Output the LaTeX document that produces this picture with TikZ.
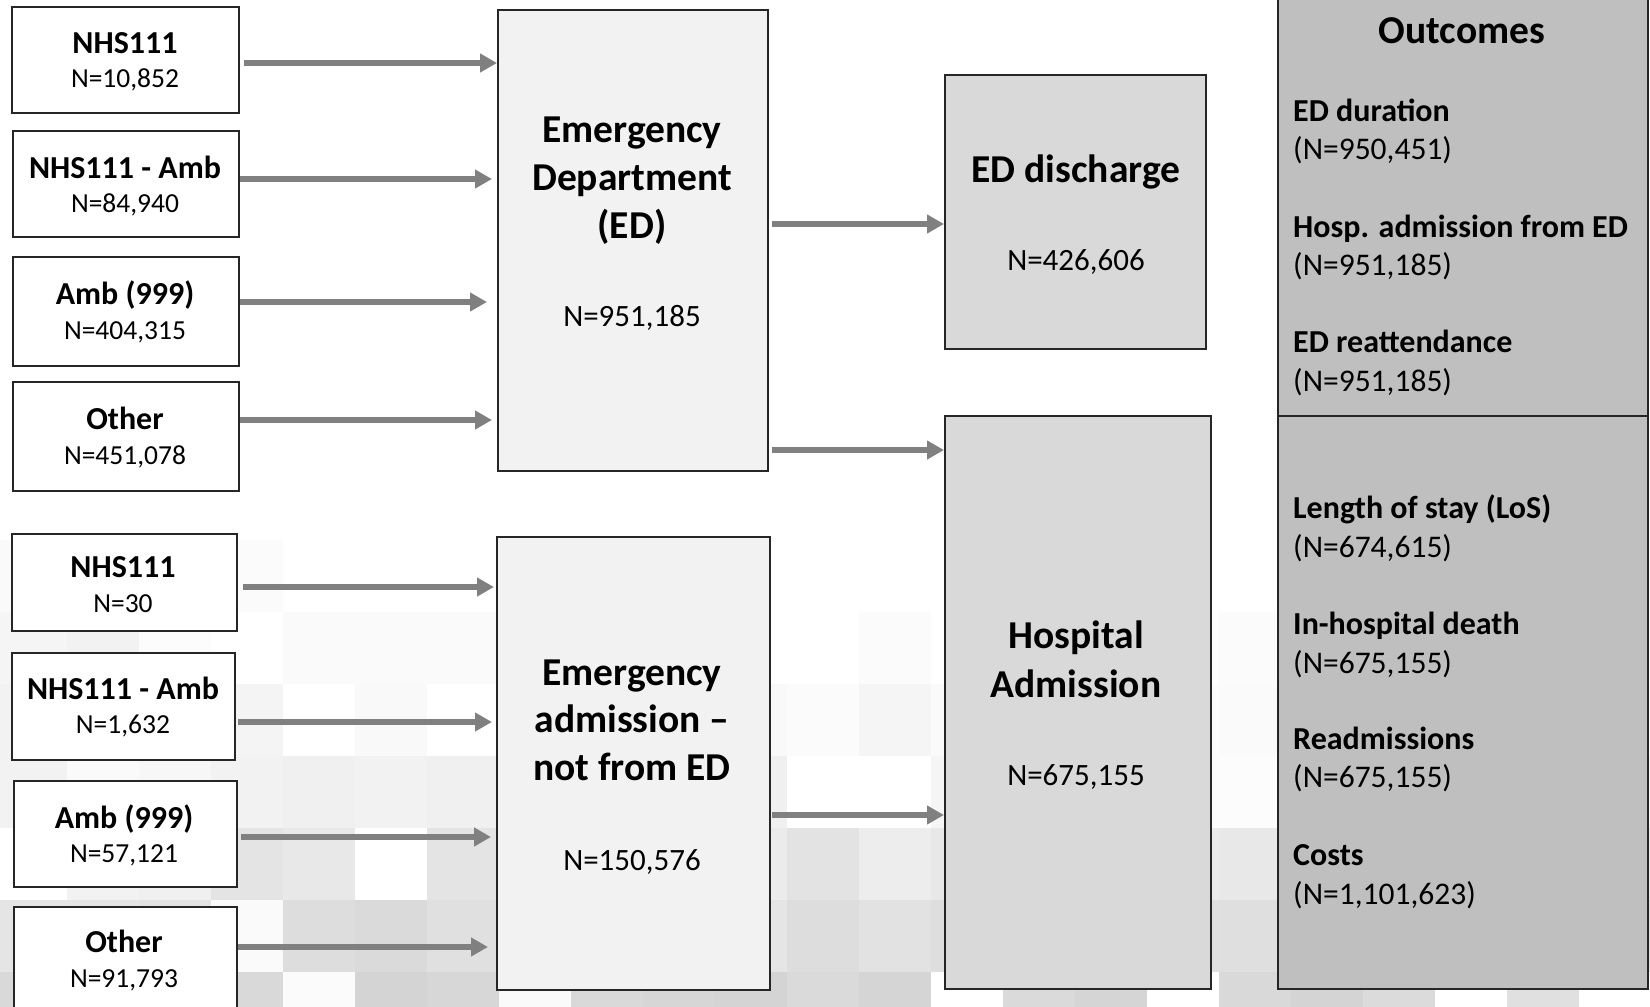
\documentclass[tikz,border=0pt]{standalone}
\usepackage{fontspec}
\setmainfont{Carlito}
\usetikzlibrary{arrows.meta}
\definecolor{lightfill}{HTML}{F2F2F2}
\definecolor{midfill}{HTML}{D9D9D9}
\definecolor{darkfill}{HTML}{BFBFBF}
\definecolor{arrowgray}{HTML}{808080}
\definecolor{edgecol}{HTML}{262626}
\tikzset{
  srcbox/.style={draw=edgecol, line width=2pt, fill=white, rectangle, inner sep=0pt},
  bigbox/.style={draw=edgecol, line width=2pt, rectangle, inner sep=0pt},
  arr/.style={draw=arrowgray, line width=5.5pt, -{Triangle[length=17pt,width=18pt]}},
  srcttl/.style={inner sep=0pt, anchor=base, font=\fontsize{32}{38}\selectfont\bfseries},
  srcn/.style={inner sep=0pt, anchor=base, font=\fontsize{27.5}{33}\selectfont},
  bigttl/.style={inner sep=0pt, anchor=base, font=\fontsize{39.5}{48}\selectfont\bfseries},
  bign/.style={inner sep=0pt, anchor=base, font=\fontsize{31}{37}\selectfont},
  outttl/.style={inner sep=0pt, anchor=base, font=\fontsize{39.5}{48}\selectfont\bfseries},
  outb/.style={inner sep=0pt, anchor=base west, font=\fontsize{32}{38}\selectfont\bfseries},
  outn/.style={inner sep=0pt, anchor=base west, font=\fontsize{31.5}{38}\selectfont},
}
\begin{document}
\begin{tikzpicture}[x=1pt,y=-1pt]
\useasboundingbox (0,0) rectangle (1650,1007);
\clip (0,0) rectangle (1650,1007);
% pixelated background
\foreach \row [count=\r from 0] in {
  {2,1,1,1.5,0,0,0,0,0,0,0,0,0,0,0,0,0,0,0,0,0,0,0},
  {4,5,1,0,2,2,2,2,2,2,0,0,1.5,0,0,0,0,1.5,1,1,0,0,0},
  {5,3,3,4.5,0,2.5,0,3,2,3,2.5,1.5,4,2,2,2,1,2,2,2,1,1,1},
  {5,2,3,5,6,5,6,5,6,5,6,0,0,4,5,4,1,1,4,4,3,3,3},
  {0,5,6,10.5,9,0,10.5,9,8,10,8,11,7,9,9,8,8,9,9,8,9,8,8},
  {10,10,11,2,13.5,14.5,12,12,13,12,10,13.5,11.5,13,12,13,12,12.5,12,13,12,12,12},
  {15,15,16,15,1.5,17,15.5,2,15,16,17,14.5,16.5,0,14.5,16.5,0,15,17,14,0,12,0}}{
  \foreach \v [count=\c from 0] in \row {
    \fill[black!\v] (-5+72*\c,540+72*\r) rectangle ++(72,72);
  }
}
% source boxes, ED branch
\node[srcbox, minimum width=227pt, minimum height=106pt] (b1) at (125.5,60) {};
\node[srcbox, minimum width=226pt, minimum height=106pt] (b2) at (126,184) {};
\node[srcbox, minimum width=226pt, minimum height=109pt] (b3) at (126,311.5) {};
\node[srcbox, minimum width=226pt, minimum height=109pt] (b4) at (126,436.5) {};
% source boxes, admission branch
\node[srcbox, minimum width=225.4pt, minimum height=97.5pt] (c1) at (124.3,582.3) {};
\node[srcbox, minimum width=223.4pt, minimum height=107pt] (c2) at (123.3,706.5) {};
\node[srcbox, minimum width=223.3pt, minimum height=106pt] (c3) at (125.4,834) {};
\node[srcbox, minimum width=223.3pt, minimum height=123pt] (c4) at (125.4,968.5) {};
% main boxes
\node[bigbox, fill=lightfill, minimum width=270pt, minimum height=461pt] (ed) at (633,240.5) {};
\node[bigbox, fill=lightfill, minimum width=273pt, minimum height=453pt] (ea) at (633.5,763.5) {};
\node[bigbox, fill=midfill, minimum width=261pt, minimum height=274pt] (dis) at (1075.5,212) {};
\node[bigbox, fill=midfill, minimum width=266pt, minimum height=573pt] (hosp) at (1078,702.5) {};
\node[bigbox, fill=darkfill, minimum width=370pt, minimum height=1009pt] (out) at (1463,484.5) {};
\draw[draw=edgecol, line width=2pt] (out.west |- 0,416) -- (out.east |- 0,416);
% arrows
\draw[arr, shorten <=4pt] (b1.east |- 0,63) -- (ed.west |- 0,63);
\draw[arr, shorten >=5pt] (b2.east |- 0,179) -- (ed.west |- 0,179);
\draw[arr, shorten >=10pt] (b3.east |- 0,302) -- (ed.west |- 0,302);
\draw[arr, shorten >=5pt] (b4.east |- 0,420) -- (ed.west |- 0,420);
\draw[arr, shorten <=5pt, shorten >=2pt] (c1.east |- 0,587) -- (ea.west |- 0,587);
\draw[arr, shorten <=2pt, shorten >=4pt] (c2.east |- 0,722) -- (ea.west |- 0,722);
\draw[arr, shorten <=3pt, shorten >=5pt] (c3.east |- 0,837) -- (ea.west |- 0,837);
\draw[arr, shorten >=8pt] (c4.east |- 0,947) -- (ea.west |- 0,947);
\draw[arr, shorten <=3pt] (ed.east |- 0,224) -- (dis.west |- 0,224);
\draw[arr, shorten <=3pt] (ed.east |- 0,450) -- (hosp.west |- 0,450);
\draw[arr, shorten <=1pt] (ea.east |- 0,815) -- (hosp.west |- 0,815);
% source texts
\node[srcttl] (b1a) at (125,53.3) {NHS111};
\node[srcn]   (b1b) at (125,87.3) {N=10,852};
\node[srcttl] (b2a) at (125,178.3) {NHS111 - Amb};
\node[srcn]   (b2b) at (125,212.3) {N=84,940};
\node[srcttl] (b3a) at (125,304) {Amb (999)};
\node[srcn]   (b3b) at (125,339.3) {N=404,315};
\node[srcttl] (b4a) at (125,429.3) {Other};
\node[srcn]   (b4b) at (125,464) {N=451,078};
\node[srcttl] (c1a) at (123,577) {NHS111};
\node[srcn]   (c1b) at (123,612) {N=30};
\node[srcttl] (c2a) at (123,699.5) {NHS111 - Amb};
\node[srcn]   (c2b) at (123,733.5) {N=1,632};
\node[srcttl] (c3a) at (124,828) {Amb (999)};
\node[srcn]   (c3b) at (124,862) {N=57,121};
\node[srcttl] (c4a) at (124,952) {Other};
\node[srcn]   (c4b) at (124,987) {N=91,793};
% main texts
\node[bigttl] (eda) at (632,142) {Emergency};
\node[bigttl] (edb) at (632,190) {Department};
\node[bigttl] (edc) at (632,238.5) {(ED)};
\node[bign]   (edn) at (632,326.7) {N=951,185};
\node[bigttl] (disa) at (1076,182) {ED discharge};
\node[bign]   (disn) at (1076,270) {N=426,606};
\node[bigttl] (hospa) at (1076,648.5) {Hospital};
\node[bigttl] (hospb) at (1076,697) {Admission};
\node[bign]   (hospn) at (1076,785.7) {N=675,155};
\node[bigttl] (eaa) at (632,685.5) {Emergency};
\node[bigttl] (eab) at (632,732.5) {admission –};
\node[bigttl] (eac) at (632,780.5) {not from ED};
\node[bign]   (ean) at (632,870.5) {N=150,576};
% outcomes
\node[outttl] (ot) at (1462,43.3) {Outcomes};
\node[outb] (o1a) at (1293,121.7) {ED duration};
\node[outn] (o1b) at (1293,159.3) {(N=950,451)};
\node[outb] (o2a) at (1293,237.3) {Hosp. admission from ED};
\node[outn] (o2b) at (1293,275) {(N=951,185)};
\node[outb] (o3a) at (1293,352.3) {ED reattendance};
\node[outn] (o3b) at (1293,391.7) {(N=951,185)};
\node[outb] (o4a) at (1293,518.2) {Length of stay (LoS)};
\node[outn] (o4b) at (1293,557) {(N=674,615)};
\node[outb] (o5a) at (1293,634.5) {In-hospital death};
\node[outn] (o5b) at (1293,673) {(N=675,155)};
\node[outb] (o6a) at (1293,749) {Readmissions};
\node[outn] (o6b) at (1293,787.6) {(N=675,155)};
\node[outb] (o7a) at (1293,865) {Costs};
\node[outn] (o7b) at (1293,904) {(N=1,101,623)};
\end{tikzpicture}
\end{document}
